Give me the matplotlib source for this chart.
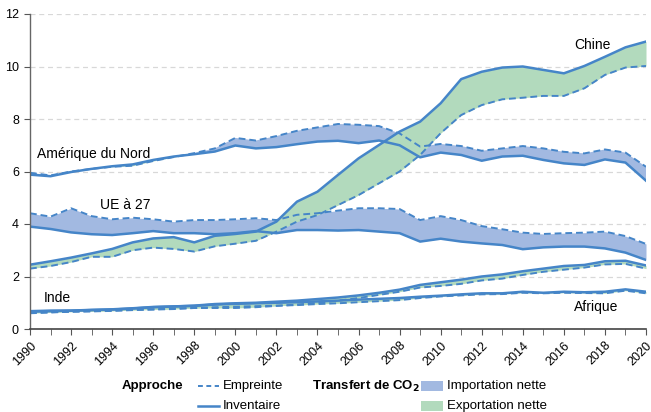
import numpy as np
import matplotlib
matplotlib.use("Agg")
import matplotlib.pyplot as plt
from matplotlib.lines import Line2D
from matplotlib.patches import Rectangle

plt.rcParams['font.family'] = ['Liberation Sans', 'DejaVu Sans']

years = np.arange(1990, 2021)

# Amérique du Nord
na_inv = [5.88, 5.82, 5.98, 6.10, 6.20, 6.27, 6.44, 6.57, 6.66, 6.76, 6.99, 6.88, 6.93, 7.04, 7.14, 7.17,
          7.08, 7.18, 7.00, 6.54, 6.72, 6.63, 6.41, 6.57, 6.60, 6.44, 6.31, 6.25, 6.46, 6.34, 5.65]
na_emp = [5.95, 5.85, 6.00, 6.10, 6.18, 6.22, 6.40, 6.55, 6.70, 6.88, 7.28, 7.18, 7.35, 7.55, 7.68, 7.81,
          7.78, 7.73, 7.45, 6.95, 7.05, 6.97, 6.79, 6.88, 6.97, 6.88, 6.75, 6.69, 6.84, 6.72, 6.18]

# UE à 27
eu_inv = [3.90, 3.81, 3.68, 3.61, 3.58, 3.65, 3.73, 3.65, 3.65, 3.61, 3.65, 3.73, 3.65, 3.77, 3.77, 3.75,
          3.77, 3.71, 3.65, 3.33, 3.44, 3.33, 3.26, 3.20, 3.04, 3.11, 3.14, 3.14, 3.07, 2.91, 2.63]
eu_emp = [4.41, 4.28, 4.60, 4.30, 4.18, 4.24, 4.18, 4.09, 4.15, 4.15, 4.18, 4.22, 4.15, 4.35, 4.41, 4.51,
          4.60, 4.60, 4.57, 4.15, 4.30, 4.15, 3.92, 3.80, 3.67, 3.62, 3.65, 3.67, 3.71, 3.54, 3.24]

# Chine
cn_inv = [2.45, 2.58, 2.72, 2.88, 3.05, 3.30, 3.45, 3.50, 3.30, 3.55, 3.62, 3.71, 4.09, 4.85, 5.23, 5.87,
          6.50, 7.01, 7.52, 7.90, 8.60, 9.52, 9.80, 9.96, 10.00, 9.87, 9.74, 10.02, 10.37, 10.73, 10.95]
cn_emp = [2.30, 2.40, 2.55, 2.75, 2.75, 3.00, 3.10, 3.05, 2.95, 3.15, 3.25, 3.36, 3.71, 4.09, 4.34, 4.72,
          5.10, 5.55, 6.00, 6.63, 7.46, 8.15, 8.53, 8.75, 8.81, 8.88, 8.88, 9.17, 9.68, 9.96, 10.02]

# Inde
in_inv = [0.66, 0.68, 0.70, 0.73, 0.75, 0.79, 0.84, 0.86, 0.89, 0.95, 0.98, 1.00, 1.04, 1.08, 1.14, 1.20,
          1.28, 1.38, 1.50, 1.68, 1.78, 1.88, 2.00, 2.08, 2.20, 2.30, 2.40, 2.44, 2.58, 2.60, 2.42]
in_emp = [0.60, 0.63, 0.66, 0.68, 0.70, 0.73, 0.74, 0.76, 0.80, 0.80, 0.80, 0.83, 0.88, 0.93, 1.00, 1.08,
          1.18, 1.30, 1.42, 1.58, 1.64, 1.72, 1.85, 1.92, 2.06, 2.18, 2.26, 2.34, 2.46, 2.48, 2.30]

# Afrique
af_inv = [0.68, 0.70, 0.70, 0.72, 0.74, 0.78, 0.83, 0.86, 0.88, 0.93, 0.96, 0.98, 1.00, 1.02, 1.05, 1.08,
          1.12, 1.15, 1.18, 1.23, 1.27, 1.32, 1.36, 1.36, 1.42, 1.38, 1.42, 1.40, 1.42, 1.51, 1.42]
af_emp = [0.62, 0.64, 0.66, 0.67, 0.69, 0.72, 0.75, 0.78, 0.80, 0.83, 0.85, 0.87, 0.89, 0.91, 0.95, 0.98,
          1.02, 1.06, 1.10, 1.18, 1.24, 1.28, 1.32, 1.33, 1.38, 1.36, 1.38, 1.37, 1.36, 1.46, 1.36]

BLUE = "#4585c8"
IMP = "#a2b9e1"
EXP = "#b2dabd"

fig = plt.figure(figsize=(6.51, 4.12), dpi=100)
ax = fig.add_axes([30 / 651, 83 / 412, 616 / 651, 315 / 412])

def band(inv, emp):
    inv = np.array(inv)
    emp = np.array(emp)
    ax.fill_between(years, inv, emp, where=emp >= inv, interpolate=True, color=IMP, lw=0)
    ax.fill_between(years, inv, emp, where=emp < inv, interpolate=True, color=EXP, lw=0)
    ax.plot(years, emp, color=BLUE, lw=1.4, dashes=(3.5, 2))
    ax.plot(years, inv, color=BLUE, lw=1.8)

for inv, emp in [(af_inv, af_emp), (in_inv, in_emp), (na_inv, na_emp), (eu_inv, eu_emp), (cn_inv, cn_emp)]:
    band(inv, emp)

ax.text(1990.35, 6.67, "Amérique du Nord", fontsize=10, va="center")
ax.text(1993.4, 4.72, "UE à 27", fontsize=10, va="center")
ax.text(1990.65, 1.18, "Inde", fontsize=10, va="center")
ax.text(2016.5, 10.82, "Chine", fontsize=10, va="center")
ax.text(2016.5, 0.84, "Afrique", fontsize=10, va="center")

ax.set_xlim(1990, 2020)
ax.set_ylim(0, 12)
ax.set_yticks(range(0, 13, 2))
ax.set_xticks(range(1990, 2021, 2))
ax.set_xticks(range(1990, 2021), minor=True)
ax.set_xticklabels([str(y) for y in range(1990, 2021, 2)], rotation=45, ha="right",
                   rotation_mode="anchor", fontsize=9)
ax.tick_params(axis="y", labelsize=9, length=4, color="#555555", pad=4)
ax.tick_params(axis="x", which="both", length=4, color="#555555")
ax.yaxis.grid(True, color="#d8d8d8", ls=(0, (4, 3)), lw=0.9)
ax.set_axisbelow(True)
for s in ["top", "right"]:
    ax.spines[s].set_visible(False)
ax.spines["left"].set_color("#666666")
ax.spines["bottom"].set_color("#444444")
ax.spines["left"].set_linewidth(1.0)
ax.spines["bottom"].set_linewidth(1.2)

# légende
def fx(px):
    return px / 651

def fy(py):
    return 1 - py / 412

fs = 9.5
fig.text(fx(122), fy(386), "Approche", fontsize=fs, fontweight="bold", va="center")
fig.add_artist(Line2D([fx(198), fx(219)], [fy(386), fy(386)], color=BLUE, lw=1.4, dashes=(2.5, 1.8)))
fig.add_artist(Line2D([fx(198), fx(219)], [fy(406), fy(406)], color=BLUE, lw=1.8))
fig.text(fx(223), fy(386), "Empreinte", fontsize=fs, va="center")
fig.text(fx(223), fy(406), "Inventaire", fontsize=fs, va="center")
fig.text(fx(312), fy(386), r"Transfert de CO$_\mathbf{2}$", fontsize=fs, fontweight="bold", va="center")
fig.add_artist(Rectangle((fx(421), fy(391)), fx(22), 10 / 412, color=IMP, lw=0))
fig.add_artist(Rectangle((fx(421), fy(411)), fx(22), 10 / 412, color=EXP, lw=0))
fig.text(fx(447), fy(386), "Importation nette", fontsize=fs, va="center")
fig.text(fx(447), fy(406), "Exportation nette", fontsize=fs, va="center")

fig.savefig("out.png", dpi=100)
